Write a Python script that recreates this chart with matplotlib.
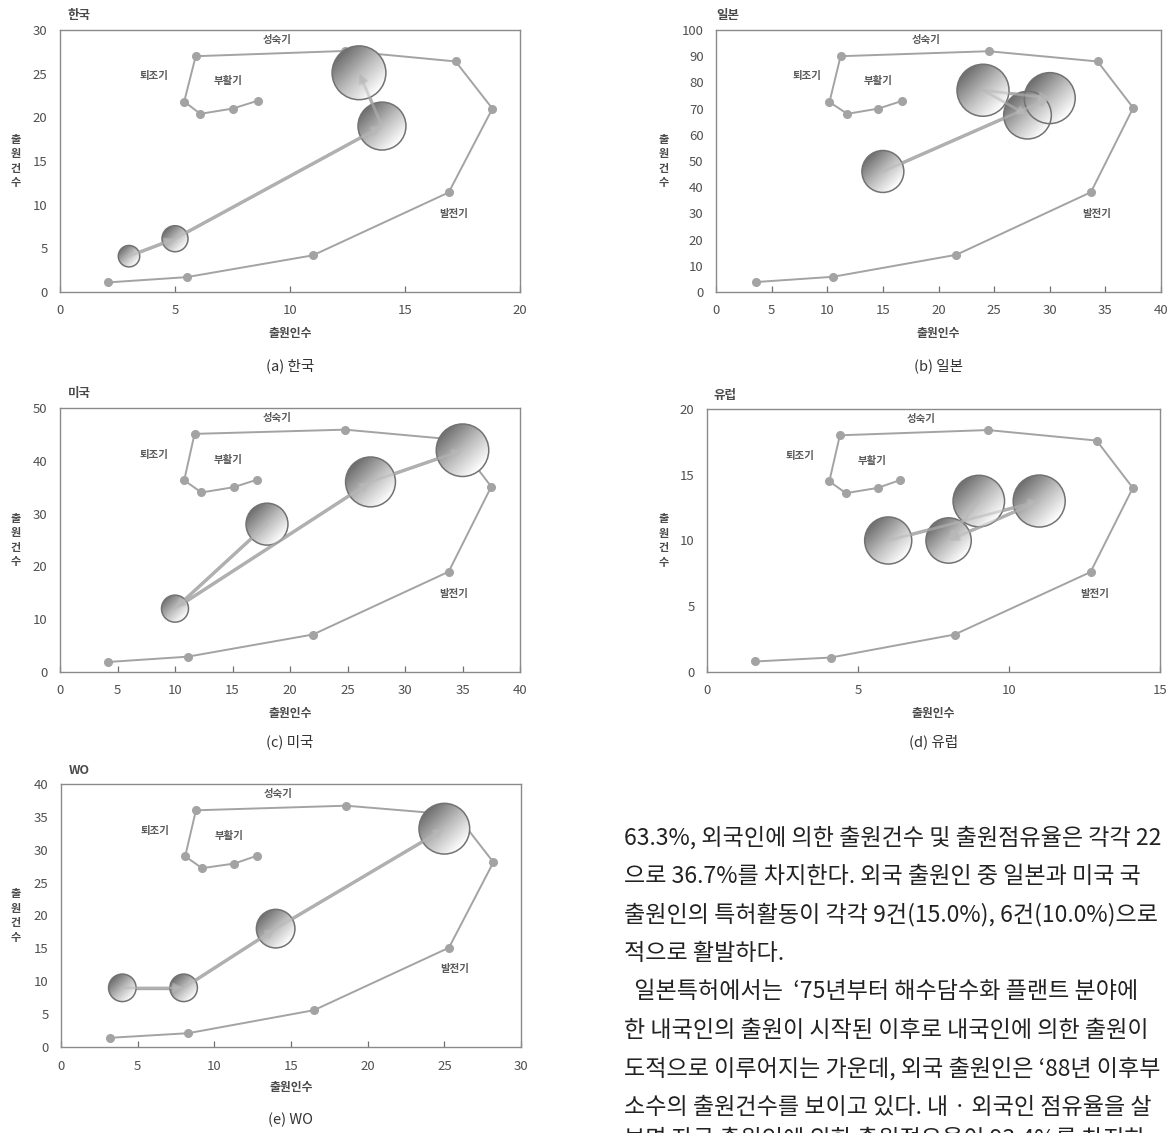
import numpy as np
import matplotlib
matplotlib.use('Agg')
import matplotlib.pyplot as plt
import matplotlib.transforms as mtransforms
from matplotlib.patches import Circle
from matplotlib.colors import LinearSegmentedColormap

plt.rcParams['font.family'] = ['Noto Sans CJK KR', 'DejaVu Sans']

W, H = 1176, 1133

# ---- data ----
phase_names = ['성숙기', '퇴조기', '부활기', '발전기']

# life-cycle reference curve per panel (발전기 -> 성숙기 -> 퇴조기 -> 부활기)
kr_cyc_x = [2.1, 5.5, 11.0, 16.9, 18.8, 17.2, 12.4, 5.9, 5.4, 6.1, 7.5, 8.6]
kr_cyc_y = [1.1, 1.7, 4.2, 11.4, 21.0, 26.4, 27.6, 27.0, 21.8, 20.4, 21.0, 21.9]
jp_cyc_x = [3.6, 10.5, 21.6, 33.7, 37.5, 34.3, 24.5, 11.2, 10.2, 11.8, 14.6, 16.7]
jp_cyc_y = [3.8, 5.8, 14.2, 38.1, 70.3, 88.0, 91.9, 90.0, 72.5, 68.0, 70.0, 72.9]
us_cyc_x = [4.2, 11.1, 22.0, 33.8, 37.5, 34.4, 24.8, 11.7, 10.8, 12.3, 15.1, 17.1]
us_cyc_y = [1.9, 2.9, 7.1, 19.0, 35.1, 44.0, 45.9, 45.1, 36.3, 34.0, 35.0, 36.4]
eu_cyc_x = [1.6, 4.1, 8.2, 12.7, 14.1, 12.9, 9.3, 4.4, 4.05, 4.6, 5.65, 6.4]
eu_cyc_y = [0.8, 1.1, 2.85, 7.6, 14.0, 17.6, 18.4, 18.0, 14.5, 13.6, 14.0, 14.6]
wo_cyc_x = [3.2, 8.3, 16.5, 25.3, 28.2, 25.8, 18.6, 8.8, 8.1, 9.2, 11.3, 12.8]
wo_cyc_y = [1.4, 2.1, 5.6, 15.1, 28.1, 35.3, 36.7, 36.0, 29.0, 27.2, 27.9, 29.1]

# bubbles: x = 출원인수, y = 출원건수, v = bubble value (area)
kr_bx = [3, 5, 14, 13]
kr_by = [4.1, 6.1, 19.0, 25.1]
kr_bv = [17, 25, 85, 107]
kr_links = [(0, 1), (1, 2), (2, 3)]

jp_bx = [15, 30, 24, 28]
jp_by = [46, 74, 77, 67.5]
jp_bv = [65, 96, 100, 84]
jp_links = [(0, 1), (2, 1), (2, 3)]

us_bx = [18, 10, 27, 35]
us_by = [28, 12, 36, 42]
us_bv = [65, 27, 92, 102]
us_links = [(0, 1), (1, 2), (2, 3)]

eu_bx = [6, 11, 8, 9]
eu_by = [10, 13, 10, 13]
eu_bv = [82, 100, 76, 98]
eu_links = [(0, 1), (1, 2), (3, 2)]

wo_bx = [4, 8, 14, 25]
wo_by = [9, 9, 18, 33.2]
wo_bv = [28, 28, 55, 95]
wo_links = [(0, 1), (1, 2), (2, 3)]

titles = ['한국', '일본', '미국', '유럽', 'WO']
captions = ['(a) 한국', '(b) 일본', '(c) 미국', '(d) 유럽', '(e) WO']

# body text as far as it is visible on the scanned page
body_lines = [
    '63.3%, 외국인에 의한 출원건수 및 출원점유율은 각각 22',
    '으로 36.7%를 차지한다. 외국 출원인 중 일본과 미국 국',
    '출원인의 특허활동이 각각 9건(15.0%), 6건(10.0%)으로',
    '적으로 활발하다.',
    '  일본특허에서는  ‘75년부터 해수담수화 플랜트 분야에',
    '한 내국인의 출원이 시작된 이후로 내국인에 의한 출원이',
    '도적으로 이루어지는 가운데, 외국 출원인은 ‘88년 이후부',
    '소수의 출원건수를 보이고 있다. 내 · 외국인 점유율을 살',
    '보면 자국 출원인에 의한 출원점유율이 93.4%를 차지하',
]

# ---- style ----
GRAY_LINE = '#a3a3a3'
TRAJ = '#a8a8a8'
EDGE = '#727272'
TXT = '#4a4a4a'
bub_cmap = LinearSegmentedColormap.from_list('bub', ['#6e6e6e', '#bcbcbc', '#ffffff'])

n = 80
u = np.linspace(0, 1, n)
U, V = np.meshgrid(u, u)
GRAD = np.clip(((U + (1 - V)) / 2 - 0.15) / 0.7, 0, 1)

fig = plt.figure(figsize=(W / 100, H / 100), dpi=100)
fig.patch.set_facecolor('white')


def fx(x):
    return x / W


def fy(y):
    return 1 - y / H


def draw_bubble(ax, x, y, r_px):
    r_in = r_px / fig.dpi
    trans = fig.dpi_scale_trans + mtransforms.ScaledTranslation(x, y, ax.transData)
    circ = Circle((0, 0), r_in, transform=trans, facecolor='none',
                  edgecolor=EDGE, lw=1.1, zorder=4)
    ax.add_patch(circ)
    cx, cy = ax.transData.transform((x, y))
    inv = ax.transData.inverted()
    x0, y0 = inv.transform((cx - r_px, cy - r_px))
    x1, y1 = inv.transform((cx + r_px, cy + r_px))
    im = ax.imshow(GRAD, cmap=bub_cmap, vmin=0, vmax=1, extent=(x0, x1, y0, y1),
                   origin='lower', aspect='auto', interpolation='bilinear', zorder=3)
    im.set_clip_path(circ)


def draw_panel(box, xmax, xstep, ymax, ystep, cyc_x, cyc_y, bx, by, bv, links,
               title, title_x, caption, ylab_x, title_y, xlab_y, cap_y):
    l, t, r, b = box
    ax = fig.add_axes([l / W, 1 - b / H, (r - l) / W, (b - t) / H])
    ax.set_autoscale_on(False)
    ax.set_xlim(0, xmax)
    ax.set_ylim(0, ymax)
    ax.set_xticks(np.arange(0, xmax + 0.1, xstep))
    ax.set_yticks(np.arange(0, ymax + 0.1, ystep))
    ax.tick_params(axis='x', direction='in', length=4, width=0.9, pad=9,
                   colors='#707070', labelcolor='#505050', labelsize=9.5)
    ax.tick_params(axis='y', direction='in', length=0, pad=9,
                   colors='#707070', labelcolor='#505050', labelsize=9.5)
    for s in ax.spines.values():
        s.set_color('#8a8a8a')
        s.set_linewidth(1.0)

    # life-cycle curve
    ax.plot(cyc_x, cyc_y, color=GRAY_LINE, lw=1.4, marker='o', markersize=5.5,
            markerfacecolor=GRAY_LINE, markeredgecolor=GRAY_LINE, zorder=2)
    phase_pos = [(0.473, 0.962), (0.205, 0.823), (0.365, 0.804), (0.855, 0.297)]
    for name, (px, py) in zip(phase_names, phase_pos):
        ax.text(px, py, name, transform=ax.transAxes, fontsize=7.5, fontweight='bold',
                color='#5a5a5a', ha='center', va='center', zorder=6)

    # trajectory under the bubbles
    for i, j in links:
        ax.plot([bx[i], bx[j]], [by[i], by[j]], color=TRAJ, lw=2.4,
                solid_capstyle='round', zorder=2.5)
    for x, y, v in zip(bx, by, bv):
        draw_bubble(ax, x, y, 2.6 * np.sqrt(v))
    # faint trajectory over the bubbles
    for i, j in links:
        ax.annotate('', xy=(bx[j], by[j]), xytext=(bx[i], by[i]),
                    arrowprops=dict(arrowstyle='-|>', color='#b8b8b8', lw=2.0,
                                    alpha=0.55, shrinkA=0, shrinkB=0,
                                    mutation_scale=13), zorder=5)

    cx = (l + r) / 2
    fig.text(fx(title_x), fy(title_y), title, fontsize=9, fontweight='bold',
             color=TXT, ha='left', va='center')
    fig.text(fx(cx), fy(xlab_y), '출원인수', fontsize=8.5, fontweight='bold',
             color=TXT, ha='center', va='center')
    fig.text(fx(ylab_x), fy((t + b) / 2), '출\n원\n건\n수', fontsize=8, fontweight='bold',
             color=TXT, ha='center', va='center', linespacing=1.15)
    fig.text(fx(cx), fy(cap_y), caption, fontsize=10.5, color='#333333',
             ha='center', va='center')
    return ax


draw_panel((60, 30, 520, 292), 20, 5, 30, 5, kr_cyc_x, kr_cyc_y, kr_bx, kr_by, kr_bv,
           kr_links, titles[0], 68, captions[0], 16, 15, 333, 366)
draw_panel((716, 30, 1161, 292), 40, 5, 100, 10, jp_cyc_x, jp_cyc_y, jp_bx, jp_by, jp_bv,
           jp_links, titles[1], 716, captions[1], 664, 15, 333, 366)
draw_panel((60, 408, 520, 672), 40, 5, 50, 10, us_cyc_x, us_cyc_y, us_bx, us_by, us_bv,
           us_links, titles[2], 68, captions[2], 16, 394, 713, 742)
draw_panel((707, 409, 1160, 672), 15, 5, 20, 5, eu_cyc_x, eu_cyc_y, eu_bx, eu_by, eu_bv,
           eu_links, titles[3], 714, captions[3], 664, 395, 713, 742)
draw_panel((61, 784, 521, 1047), 30, 5, 40, 5, wo_cyc_x, wo_cyc_y, wo_bx, wo_by, wo_bv,
           wo_links, titles[4], 69, captions[4], 16, 770, 1088, 1120)

# body text on the right; the last line only peeks in at the bottom edge, as on the page
for k, line in enumerate(body_lines):
    yy = 838 + 38.5 * k if k < 8 else 1139
    fig.text(fx(624), fy(yy), line, fontsize=16.6, color='#222222',
             ha='left', va='center')

fig.savefig('out.png', dpi=100)
